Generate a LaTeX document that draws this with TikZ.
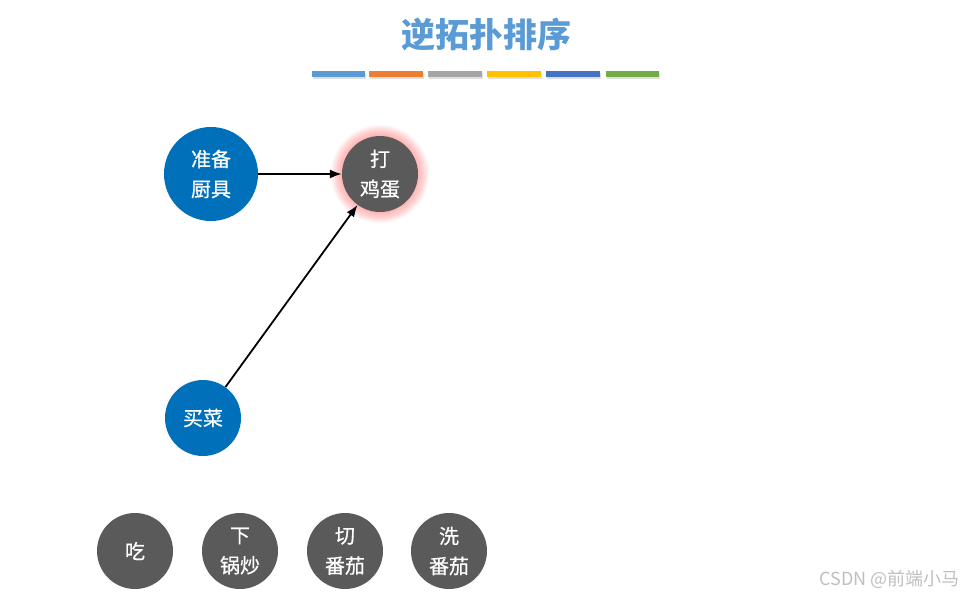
\documentclass[tikz,border=0pt]{standalone}
\usepackage{fontspec}
\usetikzlibrary{arrows.meta, shadows}
\newfontfamily\cjk{Noto Sans CJK SC}
\newfontfamily\cjkmed[FakeBold=0.6]{Noto Sans CJK SC}
\definecolor{titleblue}{HTML}{5B9BD5}
\definecolor{taskblue}{HTML}{0070BA}
\definecolor{taskgray}{HTML}{5A5A5A}
\definecolor{glowred}{HTML}{FF5A5A}
\definecolor{markc}{HTML}{BFBFBF}
\definecolor{barA}{HTML}{5B9BD5}
\definecolor{barB}{HTML}{ED7D31}
\definecolor{barC}{HTML}{A5A5A5}
\definecolor{barD}{HTML}{FFC000}
\definecolor{barE}{HTML}{4472C4}
\definecolor{barF}{HTML}{70AD47}
\newcommand{\TaskF}{\cjkmed\fontsize{20}{30}\selectfont}
\newcommand{\colorbar}[3]{%
  \fill[#3, drop shadow={shadow xshift=1pt, shadow yshift=-1.5pt, opacity=0.25}] (#1,71) rectangle (#2,77);
}
\tikzset{
  task/.style={circle, draw=none, inner sep=0pt, text=white, align=center, font=\TaskF},
  bigtask/.style={task, minimum size=94pt, fill=taskblue},
  smalltask/.style={task, minimum size=76pt, fill=taskgray},
  link/.style={line width=1.8pt, -{Latex[length=12pt, width=9pt]}}
}

\begin{document}
\begin{tikzpicture}[x=1pt,y=-1pt]
\useasboundingbox (0,0) rectangle (969,597);
% title
\node[font=\cjk\bfseries\fontsize{34}{36}\selectfont, text=titleblue] (title) at (486,35) {逆拓扑排序};
\colorbar{312}{365}{barA}
\colorbar{369}{423}{barB}
\colorbar{428}{482}{barC}
\colorbar{487}{541}{barD}
\colorbar{546}{600}{barE}
\colorbar{606}{659}{barF}
% glow round the current step
\foreach \r in {1,...,12}
  \fill[glowred, opacity=0.05] (380,174) circle[radius=37pt+\r pt];
% tasks
\node[bigtask] (tools) at (211,174) {准备\\厨具};
\node[smalltask] (egg) at (380,174) {打\\鸡蛋};
\node[smalltask, fill=taskblue] (shop) at (203,418) {买菜};
\node[smalltask] (eat) at (135,551) {吃};
\node[smalltask] (fry) at (240,551) {下\\锅炒};
\node[smalltask] (cut) at (345,551) {切\\番茄};
\node[smalltask] (wash) at (449,551) {洗\\番茄};
% edges
\draw[link] (tools) -- (egg);
\draw[link] (shop) -- (egg);
% watermark
\node[anchor=east, font=\cjk\fontsize{18}{20}\selectfont, text=markc] (mark) at (963,579) {CSDN @前端小马};
\end{tikzpicture}
\end{document}
